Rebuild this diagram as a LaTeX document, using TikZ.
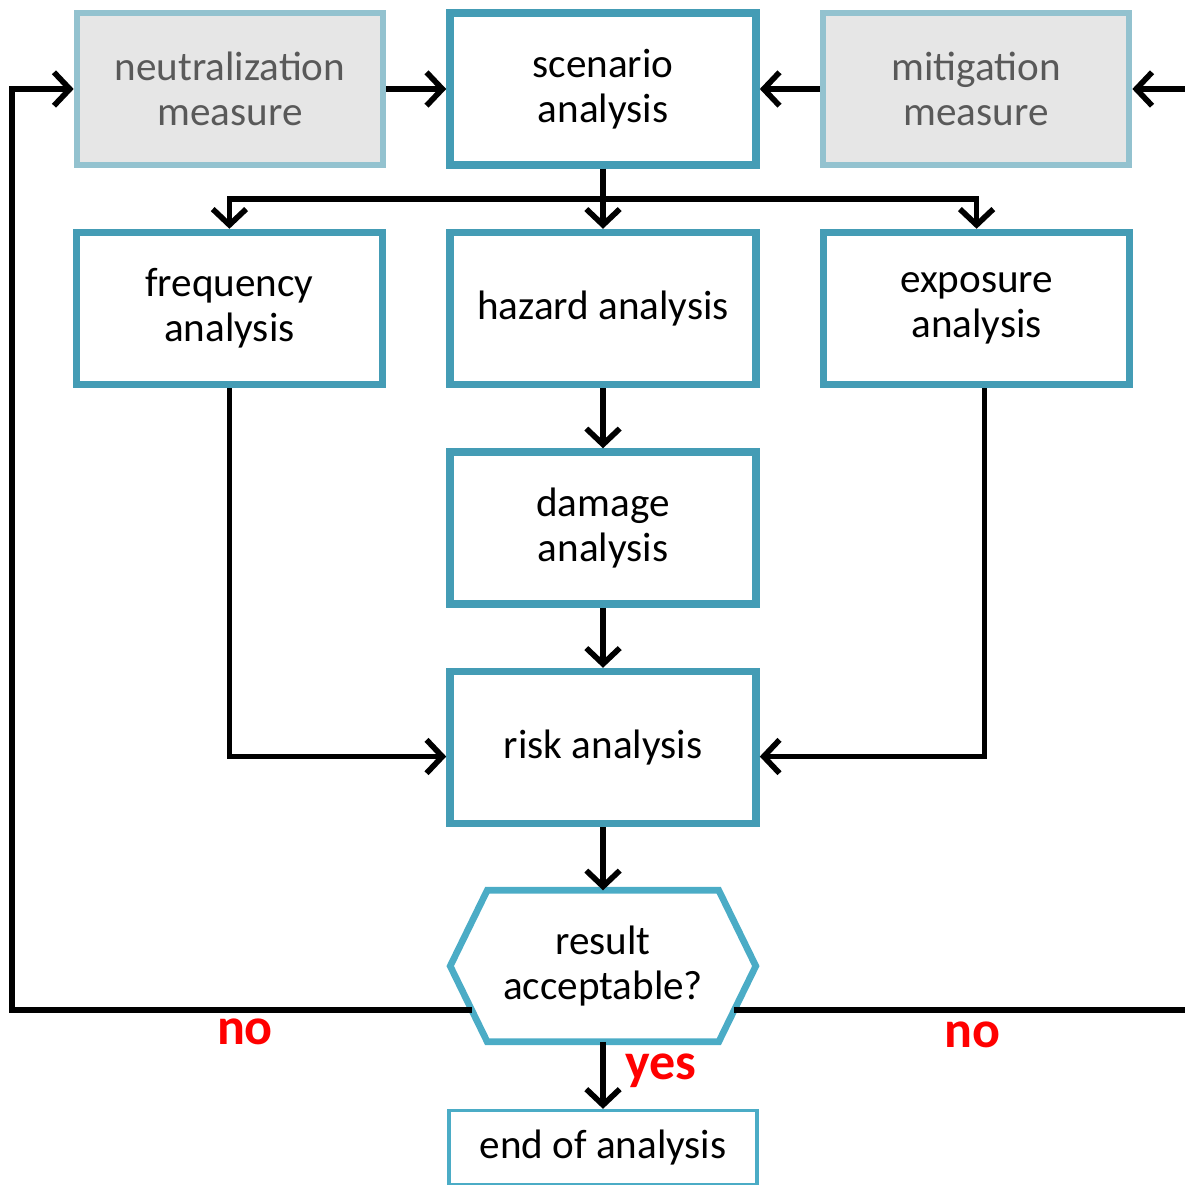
\documentclass[tikz,border=0pt]{standalone}
\usepackage{fontspec}
\setmainfont{Carlito}
\usepackage{tikz}
\usetikzlibrary{arrows.meta,positioning,calc,shadows}
\definecolor{riskteal}{HTML}{449CB5}
\definecolor{riskpale}{HTML}{93C2CF}
\definecolor{riskcyan}{HTML}{4BACC6}
\definecolor{riskgrey}{HTML}{E6E6E6}
\definecolor{risktext}{HTML}{595959}

\begin{document}
\begin{tikzpicture}[
  x=0.01cm, y=-0.01cm,
  node distance=0.60cm and 0.60cm,
  >={Straight Barb[length=4.5pt,width=9.5pt]},
  every node/.style={font=\fontsize{11.7}{12.8}\selectfont, align=center},
  proc/.style={rectangle, draw=riskteal, line width=2.1pt, fill=white,
    minimum width=3.06cm, minimum height=1.52cm,
    drop shadow={opacity=0.25, shadow xshift=0.7pt, shadow yshift=-0.9pt}},
  measure/.style={proc, draw=riskpale, line width=1.8pt, fill=riskgrey, text=risktext},
  check/.style={rectangle, minimum width=3.04cm, minimum height=1.5cm},
  endbox/.style={rectangle, draw=riskcyan, line width=1pt,
    minimum width=3.08cm, minimum height=0.74cm},
  hexline/.style={draw=riskcyan, line width=1.9pt, line join=miter},
  flow/.style={->, line width=1.6pt},
  answer/.style={text=red, font=\fontsize{14.8}{16}\selectfont\bfseries}]
\useasboundingbox (0,0) rectangle (1185,1185);
\clip (0,0) rectangle (1185,1185);

% top row
\node[proc] (scen) at (603,89) {scenario\\analysis};
\node[measure, left=of scen] (neut) {neutralization\\measure};
\node[measure, right=of scen] (mitig) {mitigation\\measure};

% analyses
\node[proc, below=of scen] (hazard) {hazard analysis};
\node[proc, left=of hazard] (freq) {frequency\\analysis};
\node[proc, right=of hazard] (expo) {exposure\\analysis};
\node[proc, below=of hazard] (damage) {damage\\analysis};
\node[proc, below=of damage] (risk) {risk analysis};

% decision
\node[check, below=0.63cm of risk] (accept) {result\\acceptable?};
\draw[hexline] ([xshift=0.37cm]accept.north west) -- ([xshift=-0.37cm]accept.north east)
  -- (accept.east) -- ([xshift=-0.37cm]accept.south east)
  -- ([xshift=0.37cm]accept.south west) -- (accept.west) -- cycle;
\node[endbox, below=0.67cm of accept] (stop) {end of analysis};

% connectors
\coordinate (split) at ($(scen.south)!0.5!(hazard.north)$);
\draw[line width=1.6pt] (scen) -- (split);
\draw[flow] (split) -- (hazard);
\draw[flow] (split) -| (freq);
\draw[flow] (split) -| (expo);
\draw[flow] (neut) -- (scen);
\draw[flow] (mitig) -- (scen);
\draw[flow] (hazard) -- (damage);
\draw[flow] (damage) -- (risk);
\draw[flow] (freq) |- ([yshift=-0.09cm]risk.west);
\draw[flow] ([xshift=0.08cm]expo.south) |- ([yshift=-0.09cm]risk.east);
\draw[flow] (risk) -- (accept);
\draw[flow] (accept) -- (stop);

% loops back
\coordinate (noL) at ($(accept.west)!0.58!([xshift=0.37cm]accept.south west)$);
\coordinate (noR) at ($(accept.east)!0.58!([xshift=-0.37cm]accept.south east)$);
\coordinate (leftedge) at (12,0);
\coordinate (rightedge) at (1200,0);
\draw[flow, line join=miter] (noL) -- (noL -| leftedge) |- (neut);
\draw[flow, line join=miter] (noR) -- (noR -| rightedge) |- (mitig);

% answers
\node[answer] (noleft) at (245,1032) {no};
\node[answer] (noright) at (972,1035) {no};
\node[answer] (yes) at (661,1071) {yes};
\end{tikzpicture}
\end{document}
